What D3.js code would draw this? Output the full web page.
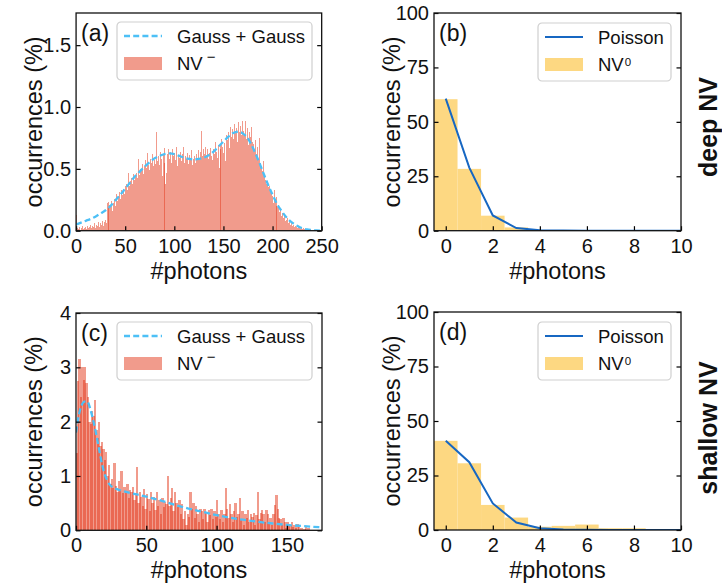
<!DOCTYPE html>
<html>
<head>
<meta charset="utf-8">
<script src="https://cdn.jsdelivr.net/npm/d3@7"></script>
<style>
  html, body { margin: 0; padding: 0; background: #fff; }
  svg { display: block; font-family: "Liberation Sans", Arial, Helvetica, sans-serif; }
</style>
</head>
<body>
<svg id="fig" width="722" height="586"></svg>
<script>
// ---------------------------------------------------------------
// Photon-count statistics of NV centres (deep vs shallow)
// ---------------------------------------------------------------

// (a) deep NV, NV- histogram: occurrences (%) per 1-photon bin, 0..249
const histDeepNVm = [
  0.13,
  0.02,0.01,0.03,0.00,0.02,0.04,0.01,0.02,0.03,0.01,
  0.04,0.02,0.03,0.05,0.02,0.04,0.03,0.06,0.02,0.05,
  0.04,0.07,0.03,0.06,0.05,0.08,0.04,0.07,0.09,0.06,
  0.22,0.23,0.18,0.21,0.19,0.24,0.16,0.22,0.26,0.20,
  0.30,0.24,0.28,0.31,0.26,0.33,0.29,0.34,0.30,0.36,
  0.38,0.33,0.47,0.36,0.40,0.43,0.38,0.46,0.41,0.44,
  0.47,0.43,0.58,0.45,0.50,0.48,0.54,0.46,0.52,0.57,
  0.51,0.63,0.53,0.49,0.58,0.55,0.62,0.52,0.57,0.54,
  0.80,0.56,0.60,0.53,0.64,0.58,0.44,0.61,0.55,0.67,
  0.38,0.47,0.62,0.66,0.58,0.64,0.55,0.66,0.60,0.63,
  0.57,0.68,0.52,0.61,0.59,0.64,0.56,0.62,0.68,0.55,
  0.60,0.58,0.63,0.54,0.61,0.57,0.65,0.53,0.58,0.60,
  0.55,0.62,0.59,0.65,0.57,0.64,0.81,0.60,0.66,0.62,
  0.68,0.61,0.66,0.58,0.63,0.67,0.60,0.57,0.66,0.62,
  0.72,0.64,0.59,0.69,0.51,0.70,0.66,0.74,0.68,0.63,
  0.71,0.56,0.77,0.73,0.80,0.67,0.84,0.76,0.82,0.74,
  0.86,0.79,0.83,0.72,0.88,0.80,0.85,0.77,0.89,0.81,
  0.78,0.89,0.74,0.83,0.69,0.80,0.76,0.84,0.72,0.70,
  0.66,0.73,0.62,0.68,0.58,0.75,0.55,0.52,0.48,0.56,
  0.44,0.41,0.38,0.40,0.35,0.36,0.33,0.30,0.28,0.22,
  0.33,0.24,0.27,0.20,0.19,0.21,0.15,0.17,0.12,0.14,
  0.10,0.12,0.08,0.09,0.10,0.06,0.08,0.05,0.07,0.04,
  0.05,0.03,0.04,0.03,0.02,0.03,0.02,0.01,0.02,0.01,
  0.02,0.01,0.01,0.00,0.01,0.01,0.00,0.01,0.00,0.00,
  0,0,0,0,0,0,0,0,0
];

// (a) Gauss + Gauss fit
const fitDeepX = [0,5,10,15,20,25,30,35,40,45,50,55,60,65,70,75,80,85,90,95,100,
  105,110,115,120,125,130,135,140,145,150,155,160,165,170,175,180,185,190,195,200,
  205,210,215,220,225,230,235,240,245,250];
const fitDeepY = [0.05,0.065,0.08,0.095,0.115,0.14,0.165,0.20,0.245,0.29,0.34,0.39,0.44,0.48,0.52,0.555,0.585,0.605,0.62,0.625,0.62,
  0.605,0.59,0.58,0.575,0.58,0.59,0.61,0.64,0.68,0.72,0.76,0.79,0.80,0.785,0.745,0.67,0.58,0.48,0.38,0.29,
  0.21,0.15,0.10,0.065,0.04,0.02,0.01,0.005,0.002,0.001];

// (c) shallow NV, NV- histogram: occurrences (%) per 1-photon bin, 0..174
const histShallowNVm = [
  1.42,2.75,3.15,2.46,3.00,2.77,3.00,2.72,2.45,2.00,
  1.95,2.20,2.10,2.40,1.85,1.70,2.00,1.55,1.62,1.50,
  1.30,1.45,1.00,1.20,0.85,0.95,0.78,1.24,0.82,0.70,
  0.90,0.75,1.10,0.68,0.80,0.72,0.85,0.60,0.75,0.70,
  0.80,0.55,0.68,1.17,0.50,0.70,0.62,0.45,0.76,0.40,
  0.66,0.58,0.35,0.70,0.50,0.62,0.38,0.71,0.45,0.55,
  0.30,0.60,0.42,0.52,0.48,1.00,0.45,0.60,0.77,0.35,
  0.71,0.50,0.42,0.55,0.30,0.48,0.20,0.35,0.10,0.30,
  0.25,0.71,0.40,0.50,0.22,0.45,0.30,0.15,0.40,0.35,
  0.20,0.40,0.33,0.15,0.38,0.28,0.40,0.20,0.35,0.25,
  0.56,0.30,0.20,0.38,0.15,0.30,0.77,0.40,0.22,0.48,
  0.30,0.15,0.35,0.50,0.25,0.30,0.59,0.20,0.35,0.10,
  0.30,0.22,0.38,0.15,0.30,0.25,0.32,0.10,0.28,0.71,
  0.20,0.31,0.38,0.30,0.15,0.38,0.30,0.12,0.22,0.10,
  0.30,0.46,0.65,0.40,0.22,0.20,0.10,0.22,0.15,0.05,
  0.15,0.08,0.10,0.15,0.06,0.10,0.05,0.12,0.06,0.00,
  0.05,0.00,0.02,0.06,0.00,0.05,0,0,0,0,
  0,0,0,0,0
];

// (c) Gauss + Gauss fit
const fitShallowX = [0,2,4,6,8,10,12,14,16,18,20,22,24,27,30,35,40,50,60,70,80,90,100,110,120,130,140,150,160,175];
const fitShallowY = [1.80,2.12,2.30,2.37,2.37,2.25,2.05,1.82,1.55,1.28,1.07,0.93,0.84,0.78,0.75,0.71,0.68,0.62,0.55,0.47,0.40,0.34,0.28,0.23,0.19,0.155,0.125,0.10,0.08,0.055];

// (b)/(d) NV0 histograms and Poisson fits, photon numbers 0..10
const photonNumbers   = [0,1,2,3,4,5,6,7,8,9,10];
const nv0Deep         = [60.4,28.4,6.9,1.5,0.3,0,0,0,0,0,0];
const poissonDeep     = [60.7,29.0,7.0,1.2,0.2,0.05,0,0,0,0,0];
const nv0Shallow      = [40.9,30.6,11.5,5.7,1.5,1.9,2.5,0.8,0.8,0,0];
const poissonShallow  = [40.9,31.1,12.2,3.4,0.8,0.2,0.1,0,0,0,0];

// tick values
const ticksXDeepNVm     = [0,50,100,150,200,250];
const ticksXShallowNVm  = [0,50,100,150];
const ticksXNV0         = [0,2,4,6,8,10];
const ticksYDeepNVm     = [0,0.5,1.0,1.5];
const ticksYShallowNVm  = [0,1,2,3,4];
const ticksYNV0         = [0,25,50,75,100];

// ---------------------------------------------------------------
const svg = d3.select("#fig");
const COL_NVM = "#e3371a", OP_NVM = 0.5;
const COL_NV0 = "#fdd882";
const COL_GAUSS = "#4dc0f6";
const COL_POIS = "#1767c2";
const FS_TICK = 20, FS_LABEL = 23.5, FS_LEG = 18.5, FS_TAG = 23;

let clipId = 0;
function makePanel(box, xDomain, yDomain) {
  const x = d3.scaleLinear().domain(xDomain).range([box.l, box.r]);
  const y = d3.scaleLinear().domain(yDomain).range([box.b, box.t]);
  const id = "clip" + (clipId++);
  svg.append("clipPath").attr("id", id).append("rect")
    .attr("x", box.l).attr("y", box.t).attr("width", box.r - box.l).attr("height", box.b - box.t);
  const g = svg.append("g");
  const plot = g.append("g").attr("clip-path", `url(#${id})`);
  return { box, x, y, g, plot };
}

// histogram bars snapped to device pixels; "wide" lets neighbours share a pixel column
function drawHist(p, values, mode) {
  const y0 = p.y(0);
  p.plot.append("g").attr("shape-rendering", "crispEdges")
    .selectAll("rect").data(values.map((v, i) => ({ v, i })).filter(d => d.v > 0))
    .join("rect")
    .each(function (d) {
      const a = p.x(d.i), b = p.x(d.i + 1);
      let s, e;
      if (mode === "wide") { s = Math.floor(a); e = Math.ceil(b); }
      else { s = Math.round(a); e = Math.max(s + 1, Math.round(b)); }
      const top = Math.round(p.y(d.v));
      d3.select(this).attr("x", s).attr("width", e - s)
        .attr("y", top).attr("height", Math.round(y0) - top);
    })
    .attr("fill", COL_NVM).attr("fill-opacity", OP_NVM);
}

function drawAxes(p, xt, yt, yfmt) {
  const { box } = p;
  const bottom = p.g.append("g").attr("transform", `translate(0,${box.b})`)
    .call(d3.axisBottom(p.x).tickValues(xt).tickSizeInner(-4.5).tickSizeOuter(0).tickPadding(8).tickFormat(d3.format("d")));
  const left = p.g.append("g").attr("transform", `translate(${box.l},0)`)
    .call(d3.axisLeft(p.y).tickValues(yt).tickSizeInner(-4.5).tickSizeOuter(0).tickPadding(5).tickFormat(yfmt));
  const right = p.g.append("g").attr("transform", `translate(${box.r},0)`)
    .call(d3.axisRight(p.y).tickValues(yt).tickSizeInner(-4.5).tickSizeOuter(0).tickFormat(""));
  [bottom, left, right].forEach(a => {
    a.select(".domain").remove();
    a.selectAll("line").attr("stroke", "#000").attr("stroke-width", 1.2);
    a.selectAll("text").attr("font-size", FS_TICK).attr("fill", "#111")
      .attr("font-family", '"Liberation Sans", Arial, sans-serif');
  });
  p.g.append("rect").attr("x", box.l).attr("y", box.t)
    .attr("width", box.r - box.l).attr("height", box.b - box.t)
    .attr("fill", "none").attr("stroke", "#111").attr("stroke-width", 1.3);
  // axis titles
  p.g.append("text").attr("x", (box.l + box.r) / 2).attr("y", box.b + 48)
    .attr("text-anchor", "middle").attr("font-size", FS_LABEL).attr("fill", "#111").text("#photons");
  const cy = (box.t + box.b) / 2;
  p.g.append("text").attr("transform", `translate(${box.l - 34},${cy}) rotate(-90)`)
    .attr("text-anchor", "middle").attr("font-size", FS_LABEL).attr("fill", "#111").text("occurrences (%)");
}

function tag(p, s) {
  p.g.append("text").attr("x", p.box.l + 5).attr("y", p.box.t + 28)
    .attr("font-size", FS_TAG).attr("fill", "#111").text(s);
}

// legend: first entry a line sample, second a filled patch with superscripted label
function legend(p, lx, ly, w, lineStyle, lineLabel, patchColor, patchOpacity, sup, supDx, supDy, supFs) {
  const g = p.g.append("g").attr("transform", `translate(${lx},${ly})`);
  g.append("rect").attr("x", 0).attr("y", 0).attr("width", w).attr("height", 58).attr("rx", 4)
    .attr("fill", "#fff").attr("fill-opacity", 0.85).attr("stroke", "#cfcfcf").attr("stroke-width", 1.2);
  g.append("line").attr("x1", 7).attr("x2", 45).attr("y1", 14).attr("y2", 14)
    .attr("stroke", lineStyle.color).attr("stroke-width", lineStyle.width)
    .attr("stroke-dasharray", lineStyle.dash || null);
  g.append("text").attr("x", 60).attr("y", 20.5).attr("font-size", FS_LEG).attr("fill", "#111").text(lineLabel);
  g.append("rect").attr("x", 7).attr("y", 35).attr("width", 38).attr("height", 13)
    .attr("fill", patchColor).attr("fill-opacity", patchOpacity);
  const t = g.append("text").attr("x", 60).attr("y", 48).attr("font-size", FS_LEG).attr("fill", "#111");
  t.append("tspan").text("NV");
  t.append("tspan").attr("dx", supDx).attr("dy", supDy).attr("font-size", supFs).text(sup);
}

const gaussLine = (p, xs, ys) => d3.line().x((d, i) => p.x(xs[i])).y((d, i) => p.y(ys[i])).curve(d3.curveMonotoneX)(xs);

// ---------------- (a) deep NV, NV- ----------------
const pa = makePanel({ l: 76.08, r: 321.68, t: 13, b: 230.7 }, [0, 250], [0, 1.76]);
drawHist(pa, histDeepNVm, "round");
pa.plot.append("path").attr("d", gaussLine(pa, fitDeepX, fitDeepY))
  .attr("fill", "none").attr("stroke", COL_GAUSS).attr("stroke-width", 2.3).attr("stroke-dasharray", "6 3.2");
drawAxes(pa, ticksXDeepNVm, ticksYDeepNVm, d3.format(".1f"));
legend(pa, 117, 22, 195, { color: COL_GAUSS, width: 2.3, dash: "6 3.2" }, "Gauss + Gauss", COL_NVM, OP_NVM, "\u2212", 4, -8, 15);
tag(pa, "(a)");

// ---------------- (b) deep NV, NV0 ----------------
const pb = makePanel({ l: 434, r: 681, t: 13, b: 230.7 }, [-0.5, 10], [0, 100]);
pb.plot.append("g").selectAll("rect").data(nv0Deep.map((v, i) => ({ v, n: photonNumbers[i] })))
  .join("rect").attr("x", d => pb.x(d.n - 0.5)).attr("width", d => pb.x(d.n + 0.5) - pb.x(d.n - 0.5))
  .attr("y", d => pb.y(d.v)).attr("height", d => pb.y(0) - pb.y(d.v)).attr("fill", COL_NV0);
pb.plot.append("path").datum(poissonDeep)
  .attr("d", d3.line().x((d, i) => pb.x(photonNumbers[i])).y(d => pb.y(d)))
  .attr("fill", "none").attr("stroke", COL_POIS).attr("stroke-width", 2);
drawAxes(pb, ticksXNV0, ticksYNV0, d3.format("d"));
legend(pb, 538, 23, 133, { color: COL_POIS, width: 2 }, "Poisson", COL_NV0, 1, "0", 1, -5, 11.5);
tag(pb, "(b)");

// ---------------- (c) shallow NV, NV- ----------------
const pc = makePanel({ l: 76, r: 322, t: 313, b: 530.3 }, [0, 175], [0, 4]);
drawHist(pc, histShallowNVm, "wide");
pc.plot.append("path").attr("d", gaussLine(pc, fitShallowX, fitShallowY))
  .attr("fill", "none").attr("stroke", COL_GAUSS).attr("stroke-width", 2.3).attr("stroke-dasharray", "6 3.2");
drawAxes(pc, ticksXShallowNVm, ticksYShallowNVm, d3.format("d"));
legend(pc, 117, 322, 195, { color: COL_GAUSS, width: 2.3, dash: "6 3.2" }, "Gauss + Gauss", COL_NVM, OP_NVM, "\u2212", 4, -8, 15);
tag(pc, "(c)");

// ---------------- (d) shallow NV, NV0 ----------------
const pd = makePanel({ l: 434, r: 681, t: 312, b: 530 }, [-0.5, 10], [0, 100]);
pd.plot.append("g").selectAll("rect").data(nv0Shallow.map((v, i) => ({ v, n: photonNumbers[i] })))
  .join("rect").attr("x", d => pd.x(d.n - 0.5)).attr("width", d => pd.x(d.n + 0.5) - pd.x(d.n - 0.5))
  .attr("y", d => pd.y(d.v)).attr("height", d => pd.y(0) - pd.y(d.v)).attr("fill", COL_NV0);
pd.plot.append("path").datum(poissonShallow)
  .attr("d", d3.line().x((d, i) => pd.x(photonNumbers[i])).y(d => pd.y(d)))
  .attr("fill", "none").attr("stroke", COL_POIS).attr("stroke-width", 2);
drawAxes(pd, ticksXNV0, ticksYNV0, d3.format("d"));
legend(pd, 538, 322, 133, { color: COL_POIS, width: 2 }, "Poisson", COL_NV0, 1, "0", 1, -5, 11.5);
tag(pd, "(d)");

// row labels
svg.append("text").attr("transform", "translate(717,127) rotate(-90)")
  .attr("text-anchor", "middle").attr("font-size", 25).attr("font-weight", "bold").attr("fill", "#111").text("deep NV");
svg.append("text").attr("transform", "translate(717,428) rotate(-90)")
  .attr("text-anchor", "middle").attr("font-size", 25).attr("font-weight", "bold").attr("fill", "#111").text("shallow NV");
</script>
</body>
</html>
